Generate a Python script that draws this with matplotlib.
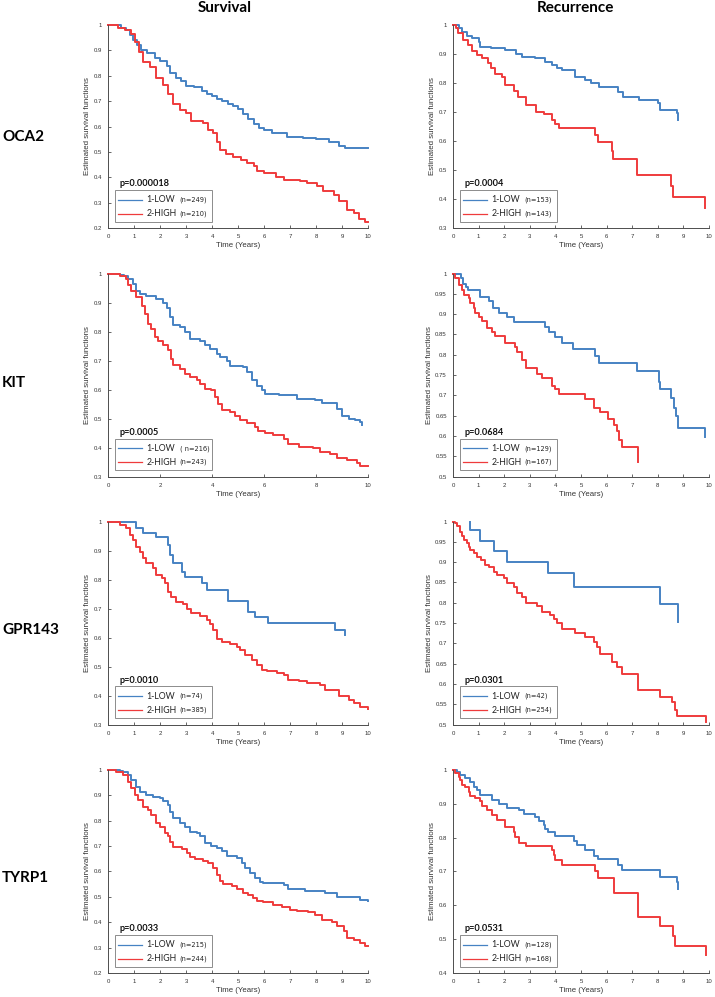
import matplotlib
matplotlib.use('Agg')
import matplotlib.pyplot as plt
from matplotlib.lines import Line2D
from matplotlib.text import Text
from matplotlib.offsetbox import AnchoredOffsetbox, DrawingArea
from matplotlib.ticker import MultipleLocator, FuncFormatter

plt.rcParams['font.family'] = ['Liberation Sans', 'DejaVu Sans']

BLUE = '#4682c3'
RED = '#ef3b3c'

# --- datos (tiempo en anos, supervivencia estimada) ---
genes = ['OCA2', 'KIT', 'GPR143', 'TYRP1']

surv_p = ['p=0.000018', 'p=0.0005', 'p=0.0010', 'p=0.0033']
rec_p = ['p=0.0004', 'p=0.0684', 'p=0.0301', 'p=0.0531']
surv_n_low = ['(n=249)', '( n=216)', '(n=74)', '(n=215)']
surv_n_high = ['(n=210)', '(n=243)', '(n=385)', '(n=244)']
rec_n_low = ['(n=153)', '(n=129)', '(n=42)', '(n=128)']
rec_n_high = ['(n=143)', '(n=167)', '(n=254)', '(n=168)']

surv_ymin = [0.2, 0.3, 0.3, 0.2]
rec_ymin = [0.3, 0.5, 0.5, 0.4]
surv_ystep = [0.1, 0.1, 0.1, 0.1]
rec_ystep = [0.1, 0.05, 0.05, 0.1]
surv_xstep = [1, 2, 1, 1]
rec_xstep = [1, 1, 1, 1]

# OCA2
oca2_surv_low_t = [0, 0.5, 0.7, 0.85, 0.95, 1.1, 1.25, 1.5, 1.8, 2.0, 2.25, 2.4, 2.6, 2.8, 3.0, 3.3, 3.6, 3.8, 4.0,
                   4.2, 4.4, 4.6, 4.8, 5.0, 5.2, 5.4, 5.6, 5.8, 6.0, 6.3, 6.9, 7.5, 8.0, 8.5, 8.9, 9.1, 10]
oca2_surv_low_s = [1, 0.99, 0.98, 0.96, 0.94, 0.92, 0.90, 0.89, 0.87, 0.86, 0.84, 0.81, 0.79, 0.78, 0.76, 0.755, 0.74,
                   0.73, 0.72, 0.71, 0.70, 0.69, 0.68, 0.67, 0.65, 0.63, 0.61, 0.595, 0.585, 0.575, 0.56, 0.555, 0.55,
                   0.54, 0.525, 0.517, 0.517]
oca2_surv_high_t = [0, 0.4, 0.65, 0.9, 1.03, 1.2, 1.35, 1.6, 1.85, 2.1, 2.3, 2.5, 2.75, 3.0, 3.2, 3.65, 3.85, 4.05,
                    4.18, 4.3, 4.55, 4.8, 5.1, 5.35, 5.6, 5.72, 6.0, 6.45, 6.75, 7.4, 7.65, 8.05, 8.25, 8.7, 8.9, 9.2,
                    9.45, 9.65, 9.9, 10]
oca2_surv_high_s = [1, 0.99, 0.98, 0.965, 0.935, 0.895, 0.855, 0.835, 0.79, 0.765, 0.73, 0.69, 0.665, 0.652, 0.62,
                    0.613, 0.587, 0.574, 0.54, 0.508, 0.49, 0.48, 0.47, 0.456, 0.443, 0.423, 0.416, 0.403, 0.39, 0.384,
                    0.377, 0.364, 0.344, 0.331, 0.305, 0.272, 0.259, 0.235, 0.225, 0.225]
oca2_rec_low_t = [0, 0.22, 0.35, 0.55, 0.75, 1.0, 1.07, 1.5, 2.05, 2.45, 2.7, 3.2, 3.6, 3.85, 4.05, 4.25, 4.75, 5.15,
                  5.4, 5.7, 6.45, 6.65, 7.25, 8.0, 8.1, 8.75, 8.8]
oca2_rec_low_s = [1, 0.99, 0.977, 0.962, 0.954, 0.943, 0.925, 0.92, 0.914, 0.90, 0.89, 0.885, 0.874, 0.862, 0.853,
                  0.845, 0.822, 0.81, 0.80, 0.785, 0.77, 0.753, 0.742, 0.73, 0.707, 0.696, 0.673]
oca2_rec_high_t = [0, 0.1, 0.2, 0.4, 0.6, 0.75, 0.95, 1.15, 1.35, 1.5, 1.65, 1.9, 2.05, 2.4, 2.55, 2.85, 3.25, 3.55,
                   3.85, 4.0, 4.15, 5.55, 5.65, 6.2, 6.25, 7.2, 8.5, 8.6, 9.85]
oca2_rec_high_s = [1, 0.988, 0.972, 0.95, 0.93, 0.91, 0.897, 0.885, 0.868, 0.851, 0.831, 0.82, 0.792, 0.771, 0.752,
                   0.724, 0.700, 0.693, 0.673, 0.659, 0.645, 0.621, 0.595, 0.565, 0.538, 0.483, 0.445, 0.408, 0.37]

# KIT
kit_surv_low_t = [0, 0.45, 0.6, 0.77, 0.96, 1.09, 1.22, 1.48, 1.86, 2.12, 2.25, 2.38, 2.5, 2.76, 2.96, 3.15, 3.53,
                  3.73, 3.92, 4.18, 4.31, 4.56, 4.69, 5.21, 5.33, 5.53, 5.72, 5.91, 6.04, 6.56, 7.26, 7.97, 8.23, 8.8,
                  9.0, 9.25, 9.5, 9.7, 9.75]
kit_surv_low_s = [1, 0.995, 0.99, 0.98, 0.963, 0.94, 0.929, 0.921, 0.912, 0.90, 0.88, 0.849, 0.824, 0.815, 0.797,
                  0.775, 0.769, 0.752, 0.74, 0.723, 0.712, 0.698, 0.68, 0.677, 0.66, 0.632, 0.614, 0.597, 0.586, 0.58,
                  0.569, 0.563, 0.554, 0.534, 0.51, 0.50, 0.494, 0.488, 0.478]
kit_surv_high_t = [0, 0.45, 0.68, 0.75, 0.9, 1.09, 1.29, 1.41, 1.54, 1.67, 1.8, 1.93, 2.12, 2.31, 2.44, 2.5, 2.76,
                   2.96, 3.15, 3.41, 3.53, 3.73, 3.98, 4.11, 4.24, 4.37, 4.69, 4.88, 5.08, 5.33, 5.66, 5.78, 6.04,
                   6.36, 6.75, 6.94, 7.33, 7.9, 8.16, 8.55, 8.8, 9.19, 9.58, 9.7, 10]
kit_surv_high_s = [1, 0.992, 0.98, 0.96, 0.94, 0.918, 0.889, 0.86, 0.826, 0.809, 0.78, 0.769, 0.752, 0.735, 0.706,
                   0.683, 0.672, 0.654, 0.643, 0.634, 0.62, 0.603, 0.597, 0.574, 0.551, 0.528, 0.523, 0.508, 0.494,
                   0.483, 0.471, 0.457, 0.451, 0.443, 0.431, 0.414, 0.403, 0.40, 0.386, 0.378, 0.363, 0.358, 0.346,
                   0.338, 0.338]
kit_rec_low_t = [0, 0.3, 0.4, 0.5, 0.6, 1.05, 1.4, 1.55, 1.8, 2.1, 2.4, 3.6, 3.75, 4.0, 4.25, 4.7, 5.55, 5.7, 7.2,
                 8.05, 8.1, 8.5, 8.62, 8.7, 8.78, 9.85]
kit_rec_low_s = [1, 0.988, 0.975, 0.967, 0.96, 0.943, 0.933, 0.914, 0.904, 0.892, 0.88, 0.868, 0.855, 0.843, 0.828,
                 0.814, 0.797, 0.779, 0.759, 0.734, 0.716, 0.694, 0.669, 0.649, 0.62, 0.597]
kit_rec_high_t = [0, 0.09, 0.22, 0.35, 0.42, 0.61, 0.68, 0.81, 0.87, 1.0, 1.13, 1.33, 1.52, 1.65, 2.04, 2.43, 2.5,
                  2.69, 2.85, 3.28, 3.47, 3.86, 3.99, 4.15, 5.16, 5.49, 5.75, 6.07, 6.27, 6.4, 6.5, 6.6, 7.22]
kit_rec_high_s = [1, 0.988, 0.971, 0.959, 0.947, 0.939, 0.928, 0.914, 0.902, 0.892, 0.884, 0.865, 0.857, 0.846, 0.828,
                  0.819, 0.806, 0.788, 0.767, 0.753, 0.743, 0.724, 0.716, 0.704, 0.69, 0.669, 0.658, 0.642, 0.628,
                  0.612, 0.59, 0.573, 0.537]

# GPR143
gpr143_surv_low_t = [0, 1.09, 1.35, 1.86, 2.31, 2.38, 2.5, 2.83, 2.96, 3.6, 3.79, 4.63, 5.4, 5.66, 6.17, 8.74, 9.1]
gpr143_surv_low_s = [1, 0.977, 0.962, 0.946, 0.919, 0.885, 0.856, 0.827, 0.81, 0.787, 0.764, 0.727, 0.689, 0.671,
                     0.65, 0.627, 0.61]
gpr143_surv_high_t = [0, 0.2, 0.45, 0.71, 0.84, 0.96, 1.09, 1.22, 1.35, 1.48, 1.74, 1.86, 2.06, 2.19, 2.31, 2.44,
                      2.63, 2.89, 3.02, 3.21, 3.53, 3.79, 3.92, 4.05, 4.18, 4.37, 4.69, 4.95, 5.08, 5.27, 5.53, 5.72,
                      5.91, 6.11, 6.49, 6.75, 6.94, 7.33, 7.65, 8.16, 8.36, 8.74, 8.87, 9.25, 9.45, 9.7, 10]
gpr143_surv_high_s = [1, 0.997, 0.988, 0.977, 0.954, 0.937, 0.913, 0.896, 0.873, 0.856, 0.839, 0.815, 0.804, 0.787,
                      0.758, 0.74, 0.723, 0.715, 0.70, 0.683, 0.674, 0.66, 0.648, 0.625, 0.596, 0.585, 0.576, 0.567,
                      0.556, 0.539, 0.521, 0.504, 0.489, 0.484, 0.477, 0.472, 0.454, 0.449, 0.443, 0.435, 0.42, 0.418,
                      0.40, 0.383, 0.374, 0.36, 0.355]
gpr143_rec_low_t = [0.68, 0.68, 1.07, 1.59, 2.11, 3.73, 4.71, 8.09, 8.8]
gpr143_rec_low_s = [1, 0.978, 0.952, 0.927, 0.901, 0.872, 0.838, 0.797, 0.753]
gpr143_rec_high_t = [0, 0.09, 0.16, 0.29, 0.35, 0.42, 0.55, 0.61, 0.68, 0.81, 0.94, 1.1, 1.26, 1.39, 1.59, 1.72, 1.98,
                     2.11, 2.37, 2.5, 2.69, 2.85, 3.28, 3.47, 3.8, 3.93, 4.06, 4.25, 4.77, 5.16, 5.49, 5.62, 5.75, 6.2,
                     6.4, 6.59, 7.24, 8.09, 8.54, 8.67, 8.74, 9.88]
gpr143_rec_high_s = [1, 0.996, 0.988, 0.975, 0.965, 0.955, 0.948, 0.938, 0.93, 0.923, 0.913, 0.905, 0.893, 0.887,
                     0.876, 0.868, 0.86, 0.849, 0.838, 0.823, 0.815, 0.80, 0.792, 0.778, 0.769, 0.759, 0.749, 0.736,
                     0.726, 0.716, 0.703, 0.691, 0.673, 0.654, 0.642, 0.625, 0.586, 0.569, 0.555, 0.536, 0.522, 0.505]

# TYRP1
tyrp1_surv_low_t = [0, 0.45, 0.58, 0.77, 0.9, 1.09, 1.22, 1.48, 1.74, 1.99, 2.12, 2.31, 2.38, 2.5, 2.76, 2.96, 3.15,
                    3.41, 3.53, 3.73, 3.98, 4.18, 4.37, 4.56, 4.95, 5.14, 5.27, 5.46, 5.66, 5.85, 5.98, 6.75, 6.94,
                    7.58, 8.35, 8.8, 9.7, 10]
tyrp1_surv_low_s = [1, 0.997, 0.993, 0.98, 0.961, 0.934, 0.915, 0.902, 0.892, 0.889, 0.879, 0.862, 0.836, 0.81, 0.79,
                    0.777, 0.757, 0.751, 0.738, 0.711, 0.70, 0.692, 0.679, 0.662, 0.652, 0.633, 0.613, 0.593, 0.574,
                    0.56, 0.554, 0.548, 0.53, 0.524, 0.515, 0.498, 0.488, 0.485]
tyrp1_surv_high_t = [0, 0.32, 0.58, 0.77, 0.9, 1.03, 1.16, 1.35, 1.54, 1.67, 1.86, 1.99, 2.19, 2.31, 2.38, 2.5, 2.83,
                     3.02, 3.15, 3.34, 3.66, 3.86, 4.05, 4.18, 4.31, 4.43, 4.76, 4.95, 5.21, 5.4, 5.59, 5.72, 5.98,
                     6.36, 6.68, 7.0, 7.26, 7.71, 7.97, 8.23, 8.61, 8.8, 9.06, 9.19, 9.45, 9.7, 9.9, 10]
tyrp1_surv_high_s = [1, 0.993, 0.98, 0.954, 0.928, 0.902, 0.882, 0.856, 0.843, 0.823, 0.79, 0.777, 0.753, 0.74,
                     0.718, 0.698, 0.688, 0.672, 0.656, 0.648, 0.643, 0.633, 0.613, 0.587, 0.561, 0.551, 0.541, 0.53,
                     0.517, 0.508, 0.495, 0.482, 0.478, 0.469, 0.46, 0.449, 0.443, 0.439, 0.43, 0.407, 0.40, 0.384,
                     0.364, 0.338, 0.331, 0.318, 0.305, 0.305]
tyrp1_rec_low_t = [0, 0.16, 0.29, 0.48, 0.68, 0.81, 0.94, 1.07, 1.52, 1.78, 2.11, 2.56, 2.76, 3.21, 3.34, 3.54, 3.6,
                   3.73, 3.99, 4.71, 4.84, 5.16, 5.49, 5.68, 6.46, 6.59, 8.09, 8.74, 8.8]
tyrp1_rec_low_s = [1, 0.995, 0.985, 0.975, 0.963, 0.951, 0.941, 0.926, 0.912, 0.90, 0.889, 0.882, 0.87, 0.86, 0.848,
                   0.838, 0.825, 0.818, 0.805, 0.789, 0.779, 0.764, 0.746, 0.736, 0.72, 0.703, 0.685, 0.67, 0.648]
tyrp1_rec_high_t = [0, 0.09, 0.22, 0.29, 0.35, 0.48, 0.61, 0.68, 0.87, 1.07, 1.13, 1.33, 1.52, 1.72, 2.04, 2.37, 2.43,
                    2.56, 2.85, 3.86, 3.93, 3.99, 4.25, 5.55, 5.68, 6.27, 7.24, 8.09, 8.6, 8.67, 9.88]
tyrp1_rec_high_s = [1, 0.99, 0.98, 0.97, 0.956, 0.949, 0.936, 0.923, 0.916, 0.907, 0.894, 0.882, 0.867, 0.853, 0.831,
                    0.818, 0.803, 0.784, 0.774, 0.764, 0.749, 0.733, 0.72, 0.70, 0.68, 0.636, 0.565, 0.538, 0.51,
                    0.481, 0.454]

surv_curves = [
    (oca2_surv_low_t, oca2_surv_low_s, oca2_surv_high_t, oca2_surv_high_s),
    (kit_surv_low_t, kit_surv_low_s, kit_surv_high_t, kit_surv_high_s),
    (gpr143_surv_low_t, gpr143_surv_low_s, gpr143_surv_high_t, gpr143_surv_high_s),
    (tyrp1_surv_low_t, tyrp1_surv_low_s, tyrp1_surv_high_t, tyrp1_surv_high_s),
]
rec_curves = [
    (oca2_rec_low_t, oca2_rec_low_s, oca2_rec_high_t, oca2_rec_high_s),
    (kit_rec_low_t, kit_rec_low_s, kit_rec_high_t, kit_rec_high_s),
    (gpr143_rec_low_t, gpr143_rec_low_s, gpr143_rec_high_t, gpr143_rec_high_s),
    (tyrp1_rec_low_t, tyrp1_rec_low_s, tyrp1_rec_high_t, tyrp1_rec_high_s),
]


# Leyenda con recuadro: linea, nombre del grupo y n mas pequeno
def add_legend(ax, n_low, n_high):
    da = DrawingArea(68, 21, 0, 0)
    for y, color, name, n in [(15, BLUE, '1-LOW', n_low), (5, RED, '2-HIGH', n_high)]:
        da.add_artist(Line2D([1.5, 18.5], [y, y], color=color, lw=0.9))
        da.add_artist(Text(21.5, y, name, fontsize=6.3, va='center', ha='left', family='Lato', color='#222222'))
        da.add_artist(Text(45.5, y, n, fontsize=4.8, va='center', ha='left', family='DejaVu Sans', color='#222222'))
    box = AnchoredOffsetbox(loc='lower left', child=da, pad=0.1, borderpad=0, frameon=True,
                            bbox_to_anchor=(0.027, 0.03), bbox_transform=ax.transAxes)
    box.patch.set_edgecolor('#8c8c8c')
    box.patch.set_linewidth(0.7)
    ax.add_artist(box)


def draw_panel(ax, curves, ymin, ystep, xstep, ptext, n_low, n_high):
    low_t, low_s, high_t, high_s = curves
    ax.step(low_t, low_s, where='post', color=BLUE, lw=1.4, clip_on=False)
    ax.step(high_t, high_s, where='post', color=RED, lw=1.4, clip_on=False)
    ax.set_xlim(0, 10)
    ax.set_ylim(ymin, 1)
    ax.xaxis.set_major_locator(MultipleLocator(xstep))
    ax.yaxis.set_major_locator(MultipleLocator(ystep))
    ax.yaxis.set_major_formatter(FuncFormatter(lambda v, p: '%g' % round(v, 2)))
    ax.spines['top'].set_visible(False)
    ax.spines['right'].set_visible(False)
    for s in ['left', 'bottom']:
        ax.spines[s].set_color('#4d4d4d')
        ax.spines[s].set_linewidth(0.7)
    ax.tick_params(direction='in', length=2.5, width=0.6, color='#4d4d4d', labelsize=4.3,
                   labelcolor='#333333', pad=4.5)
    ax.set_xlabel('Time (Years)', fontsize=5.6, color='#333333', labelpad=2)
    ax.set_ylabel('Estimated survival functions', fontsize=5.7, color='#333333', labelpad=1.5)
    ax.text(0.046, 0.218, ptext, transform=ax.transAxes, fontsize=6.6, fontweight='bold',
            family='Lato', va='center', ha='left', color='#111111')
    add_legend(ax, n_low, n_high)


fig = plt.figure(figsize=(7.15, 9.97), dpi=100)

row_bottom = [0.7713, 0.522, 0.2733, 0.0241]
ax_h = 203 / 997
left_x, left_w = 108 / 715, 260 / 715
right_x, right_w = 453 / 715, 256 / 715
gene_y = [137, 383, 630, 878]

for i in range(4):
    ax1 = fig.add_axes([left_x, row_bottom[i], left_w, ax_h])
    draw_panel(ax1, surv_curves[i], surv_ymin[i], surv_ystep[i], surv_xstep[i],
               surv_p[i], surv_n_low[i], surv_n_high[i])
    ax2 = fig.add_axes([right_x, row_bottom[i], right_w, ax_h])
    draw_panel(ax2, rec_curves[i], rec_ymin[i], rec_ystep[i], rec_xstep[i],
               rec_p[i], rec_n_low[i], rec_n_high[i])
    fig.text(0.003, 1 - gene_y[i] / 997, genes[i], ha='left', va='center', fontsize=11,
             fontweight='bold', family='Lato')

fig.text(225 / 715, 1 - 8 / 997, 'Survival', ha='center', va='center', fontsize=11, fontweight='bold', family='Lato')
fig.text(575 / 715, 1 - 8 / 997, 'Recurrence', ha='center', va='center', fontsize=11, fontweight='bold', family='Lato')

fig.savefig('out.png', dpi=100)
